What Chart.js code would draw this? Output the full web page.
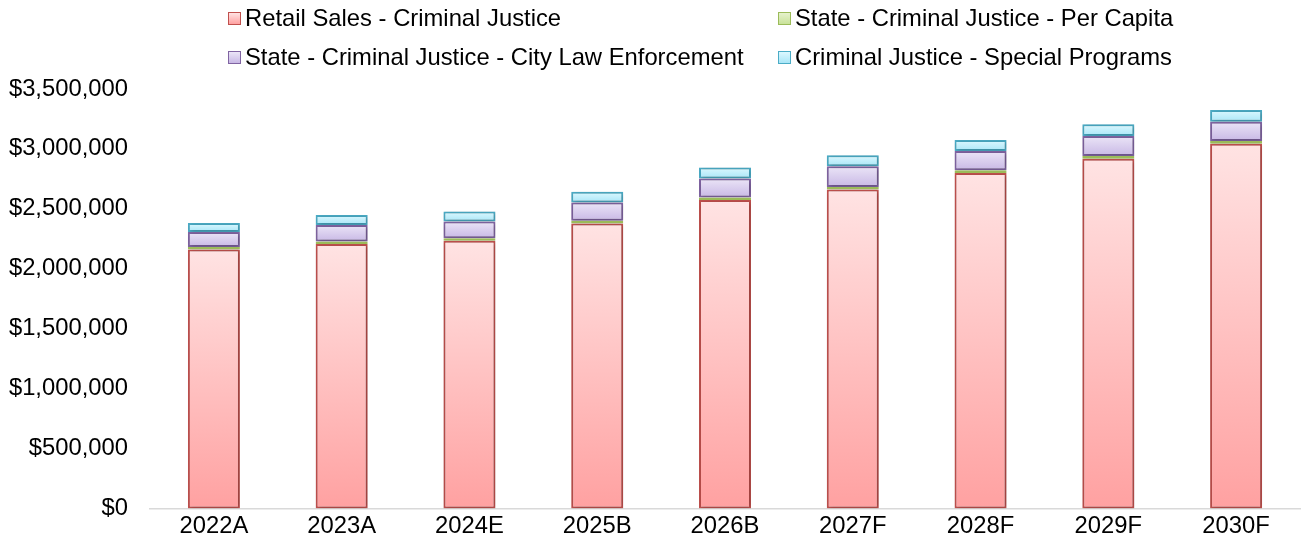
<!DOCTYPE html>
<html>
<head>
<meta charset="utf-8">
<title>Criminal Justice Revenue</title>
<script src="https://cdn.jsdelivr.net/npm/chart.js@4"></script>
<style>
  body { margin: 0; background: #fff; font-family: "Liberation Sans", Arial, sans-serif; }
  #wrap { position: relative; width: 1305px; height: 546px; }
  #legend { position: absolute; left: 0; top: 0; width: 1305px; height: 80px; }
  .item { position: absolute; display: flex; align-items: center; font-size: 23.8px; line-height: 28px; color: #000; white-space: nowrap; }
  .item span.box { width: 11px; height: 11px; margin-right: 4px; border: 1.5px solid; }
</style>
</head>
<body>
<div id="wrap">
  <canvas id="myChart" width="1305" height="546"></canvas>
  <div id="legend"></div>
</div>
<script>
let categories = ['2022A', '2023A', '2024E', '2025B', '2026B', '2027F', '2028F', '2029F', '2030F']
let retailSales = [2161000, 2206000, 2233000, 2378000, 2573000, 2661000, 2800000, 2919000, 3044000]
let perCapita = [21000, 21000, 22000, 22000, 22000, 22000, 22000, 22000, 22000]
let cityLaw = [125000, 139000, 139000, 153000, 158000, 172000, 160000, 167000, 161000]
let specialPrograms = [75000, 83000, 83000, 89000, 92000, 92000, 92000, 97000, 98000]
let yTickValues = [0, 500000, 1000000, 1500000, 2000000, 2500000, 3000000, 3500000]

let seriesNames = [
  'Retail Sales - Criminal Justice',
  'State - Criminal Justice - Per Capita',
  'State - Criminal Justice - City Law Enforcement',
  'Criminal Justice - Special Programs'
]
let seriesValues = [retailSales, perCapita, cityLaw, specialPrograms]
let borders = ['#c0504d', '#9bbb59', '#8064a2', '#4bacc6']
let topColors = ['#ffe3e3', '#e6f2cc', '#ebe5f7', '#dcf8ff']
let bottomColors = ['#ffa1a1', '#c9e29a', '#c8b8e5', '#a9e6f7']

// vertical gradient sized to each stacked segment
function segmentFill(ctx) {
  let s = ctx.datasetIndex
  if (ctx.type !== 'data' || !ctx.chart.scales.y) return topColors[s]
  let i = ctx.dataIndex
  let base = 0
  for (let k = 0; k < s; k++) base += seriesValues[k][i]
  let y = ctx.chart.scales.y
  let top = y.getPixelForValue(base + seriesValues[s][i])
  let bottom = y.getPixelForValue(base)
  if (!isFinite(top) || !isFinite(bottom) || top === bottom) return topColors[s]
  let g = ctx.chart.ctx.createLinearGradient(0, top, 0, bottom)
  g.addColorStop(0, topColors[s])
  g.addColorStop(1, bottomColors[s])
  return g
}

let datasets = seriesNames.map((name, s) => ({
  label: name,
  data: seriesValues[s],
  backgroundColor: segmentFill,
  borderColor: borders[s],
  borderWidth: 2,
  borderSkipped: false,
  categoryPercentage: 1,
  barPercentage: 0.407
}))

// soft drop shadow behind the bars
let barShadow = {
  id: 'barShadow',
  beforeDatasetsDraw(chart) {
    let c = chart.ctx
    c.save()
    c.shadowColor = 'rgba(0,0,0,0.28)'
    c.shadowBlur = 4
    c.shadowOffsetX = 1
    c.shadowOffsetY = 1
  },
  afterDatasetsDraw(chart) {
    chart.ctx.restore()
  }
}

Chart.defaults.font.family = '"Liberation Sans", Arial, sans-serif'
Chart.defaults.font.size = 23.8
Chart.defaults.color = '#000'

let chart = new Chart(document.getElementById('myChart').getContext('2d'), {
  type: 'bar',
  data: { labels: categories, datasets: datasets },
  plugins: [barShadow],
  options: {
    responsive: false,
    animation: false,
    layout: { padding: { top: 89, left: 0, right: 5, bottom: 1 } },
    plugins: { legend: { display: false }, tooltip: { enabled: false } },
    scales: {
      x: {
        stacked: true,
        grid: { display: false, drawTicks: false },
        border: { display: true, color: '#d9d9d9', width: 1.5 },
        ticks: { padding: 4 }
      },
      y: {
        stacked: true,
        min: 0,
        max: 3500000,
        afterBuildTicks: (axis) => { axis.ticks = yTickValues.map((v) => ({ value: v })) },
        afterFit: (axis) => { axis.width = 150 },
        grid: { display: false, drawTicks: false },
        border: { display: false },
        ticks: {
          padding: 22,
          callback: (v) => '$' + Number(v).toLocaleString('en-US')
        }
      }
    }
  }
})

// two-column legend above the plot
let legend = document.getElementById('legend')
let spots = [[228, 4], [778, 4], [228, 43], [778, 43]]
seriesNames.forEach((name, s) => {
  let item = document.createElement('div')
  item.className = 'item'
  item.style.left = spots[s][0] + 'px'
  item.style.top = spots[s][1] + 'px'
  let box = document.createElement('span')
  box.className = 'box'
  box.style.borderColor = borders[s]
  box.style.background = 'linear-gradient(' + topColors[s] + ',' + bottomColors[s] + ')'
  item.appendChild(box)
  item.appendChild(document.createTextNode(name))
  legend.appendChild(item)
})
</script>
</body>
</html>
